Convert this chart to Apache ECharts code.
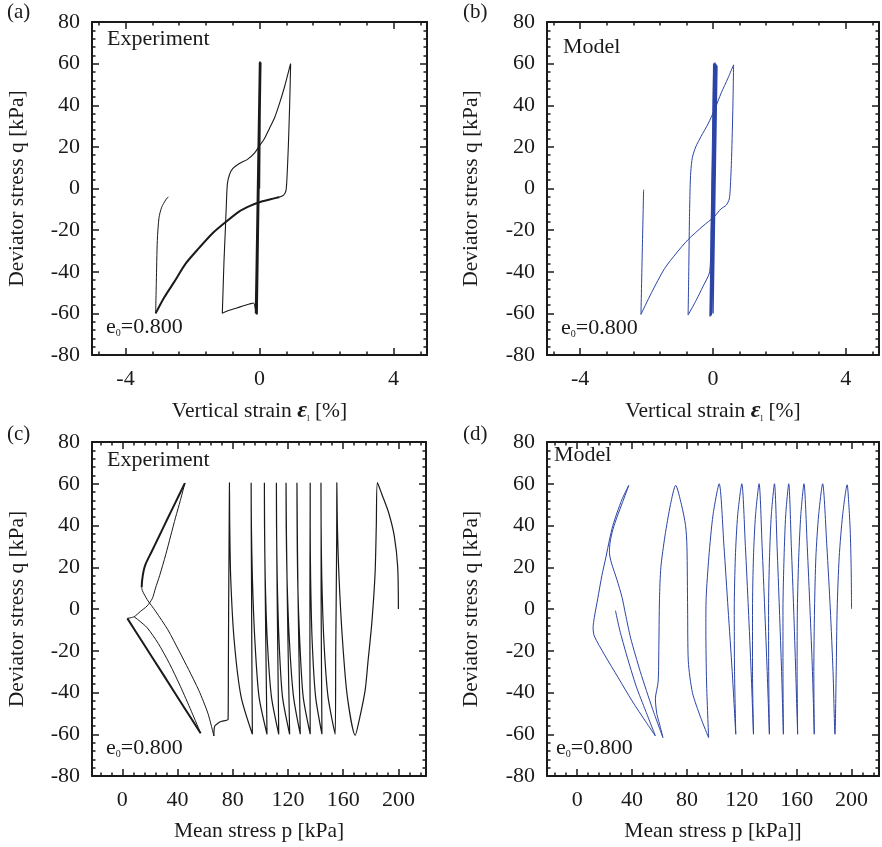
<!DOCTYPE html>
<html><head><meta charset="utf-8">
<script src="https://cdn.jsdelivr.net/npm/echarts@6/dist/echarts.min.js"></script>
<style>html,body{margin:0;padding:0;background:#fff}#c{width:882px;height:847px}</style>
</head><body><div id="c"></div>
<script>
// ---------- tick values ----------
const yTicks = [-80,-60,-40,-20,0,20,40,60,80];
const strainLabels = [-4,0,4];
const strainMinor = [-4.8,-3.2,-2.4,-1.6,-0.8,0.8,1.6,2.4,3.2,4.8];
const pLabels = [0,40,80,120,160,200];
const pMinor = [-16,-8,8,16,24,32,48,56,64,72,88,96,104,112,128,136,144,152,168,176,184,192,208,216];

// ---------- (a) experiment: strain [%], q [kPa] ----------
const aBundle = [[0,0],[0.03,60],[-0.08,-60],[0.02,61],[-0.1,-60],[0.04,60.5],[-0.07,-60.5],[0.01,60],[-0.11,-60],[0.02,61],[-0.09,-60.5],[0.0,60.5],[-0.12,-60],[0.03,60],[-0.1,-60],[0.01,61],[-0.12,-58]];
const aLoop = [[-0.12,-58],[-0.18,-55],[-0.3,-55.5],[-0.5,-56.5],[-0.7,-57.5],[-0.9,-58.5],[-1.05,-59.5],[-1.11,-60],[-1.09,-50],[-1.06,-35],[-1.02,-20],[-0.99,-8],[-0.96,2],[-0.9,6.5],[-0.8,9.5],[-0.6,12],[-0.36,14],[-0.15,17],[0.0,20.5],[0.15,24],[0.3,29],[0.45,34],[0.6,41],[0.75,49],[0.92,59.5],[0.93,60],[0.9,40],[0.86,20],[0.82,5],[0.79,-1],[0.72,-3.2],[0.6,-4.1]];
const aSoft = [[0.6,-4.1],[0.3,-5.3],[0.0,-6.6],[-0.3,-8.5],[-0.6,-11],[-1.0,-16],[-1.4,-21.5],[-1.8,-28.5],[-2.2,-36],[-2.55,-45],[-2.85,-52.5],[-3.1,-60]];
const aEnd = [[-3.1,-60],[-3.08,-45],[-3.05,-25],[-3.0,-14],[-2.92,-9],[-2.8,-5.5],[-2.72,-4]];

// ---------- (b) model: strain [%], q [kPa] ----------
const bBundle = [[0,0],[0.12,59],[0.0,-60],[0.08,60],[-0.06,-61],[0.06,60.5],[-0.08,-61],[0.04,60],[-0.09,-61.5],[0.1,59.5],[-0.05,-61],[0.02,60]];
const bLoop = [[0.02,60],[-0.02,20],[-0.06,-20],[-0.1,-40],[-0.3,-47],[-0.5,-53.5],[-0.75,-60.8],[-0.73,-40],[-0.71,-15],[-0.69,0],[-0.67,8],[-0.62,15],[-0.52,20],[-0.36,25],[-0.15,31],[0.05,38],[0.25,46],[0.45,53],[0.62,59.4],[0.6,40],[0.56,15],[0.52,0],[0.49,-5],[0.4,-8],[0.24,-9.8],[0.04,-13.5],[-0.3,-18],[-0.76,-24.7],[-1.1,-31],[-1.46,-38.5],[-1.85,-50],[-2.17,-60.5],[-2.13,-30],[-2.09,-0.6]];

// ---------- (c) experiment: p [kPa], q [kPa] ----------
const cCycles = [[200,0],[199.5,20],[197,35],[193,46],[188,55],[184.8,60.5],
  [184,40],[183.1,17],[180.7,-7],[178,-25],[175.9,-39],[172,-52],[168.7,-60.5],
  [163,-42],[159.5,-15],[157,15],[155.8,40],[155.4,60.5],[155.3,35],[155,10],[154.6,-20],[154.2,-60],
  [149,-42],[146,-15],[144.5,15],[144,40],[143.9,60.5],[144,35],[144,10],[144.2,-20],[144.6,-60],
  [140,-42],[137.5,-15],[136.4,15],[136.1,40],[136.1,60.5],[136,35],[135.9,10],[135.9,-20],[136.1,-60],
  [131,-42],[128.5,-15],[127,15],[126.6,40],[126.5,60.5],[126.8,35],[127.2,10],[127.9,-20],[128.9,-60],
  [124,-42],[121,-15],[119.3,15],[118.7,40],[118.6,60.5],[118.9,35],[119.4,10],[120.1,-20],[121.2,-60],
  [116,-42],[113.5,-15],[112.2,15],[111.7,40],[111.6,60.5],[111.8,35],[112.1,10],[112.6,-20],[113.3,-60],
  [108,-42],[105,-15],[103.5,15],[103,40],[102.9,60.5],[103.1,35],[103.5,10],[104,-20],[104.8,-60],
  [99,-42],[96,-15],[94.2,15],[93.5,40],[93.3,60.5],[93.4,35],[93.6,10],[93.8,-20],[94.2,-60],
  [86,-42],[81,-15],[78.5,15],[77.8,40],[77.6,60.5],[77.3,30],[77,0],[76.8,-30],[76.6,-52.8],[72,-53.8],[69.9,-54.4],[67,-56],[66.3,-60.8]];
const cRise = [[66.3,-60.8],[62,-50],[55.4,-39],[48,-29],[41,-20],[33,-10],[24,-1],[18,4.5],[14.5,8.8],[14,10.4]];
const cUp = [[14,10.4],[14.3,13.6],[15.3,18],[16.9,21.6],[21,27.2],[26,34],[31,40.9],[36,47.7],[41,54.5],[45.3,60.3]];
const cDown = [[45.3,60.3],[42,52],[38.6,44],[35,35],[31.4,26],[27,16],[24,10],[21.7,5],[18,1.5],[13,-1.2],[8.5,-3.7],[3.6,-4.5]];
const cSoft = [[3.6,-4.5],[15,-16.3],[30,-31.8],[45,-47.4],[56.7,-59.5]];
const cEnd = [[56.7,-59.5],[50,-49],[42,-37],[34,-26],[26,-16.5],[18,-9],[12,-5.5],[8.5,-3.7]];

// ---------- (d) model: p [kPa], q [kPa] ----------
const dCycles = [[200,0],[199.7,20],[199,38],[198,50],[196.8,59.5],
  [193.5,45],[191,25],[189.5,0],[188.8,-30],[187.9,-60],
  [186.5,-30],[184.5,0],[182,30],[178.9,60],
  [176,45],[174,25],[173,0],[172.5,-30],[172.8,-60],
  [171.5,-30],[169.7,0],[167.7,30],[165.3,60],
  [163,45],[161.5,25],[160.5,0],[160.3,-30],[160.7,-60],
  [159.3,-30],[157.8,0],[156.1,30],[154.2,60],
  [152,45],[150.8,25],[150,0],[150,-30],[150.3,-60],
  [149,-30],[147.4,0],[145.7,30],[143.8,60],
  [141.5,45],[140.2,25],[139.5,0],[139.6,-30],[140.1,-60],
  [138.5,-30],[136.7,0],[134.8,30],[132.6,60],
  [130,45],[128.5,25],[127.8,0],[127.8,-30],[128.5,-60],
  [126.8,-30],[124.8,0],[122.6,30],[120,60],
  [117,45],[115.3,25],[114.5,0],[114.7,-30],[115.6,-60],
  [113,-30],[110,0],[107,30],[103.5,60],
  [99,45],[96,25],[94,5],[93.8,-10],[94.3,-35],[95.8,-61.6],
  [90,-52],[84,-40],[81,-25],[80.5,0],[80,30],[79,40],[76,50],[71.8,59.2],
  [68,50],[64,35],[61,20],[60,5],[59.5,-20],[59,-35],[57,-43],[58,-50],[60,-55],[62.5,-61.6]];
const dRise = [[62.5,-61.6],[55,-48],[46,-30],[39,-14],[35.2,-2.4],[32.7,5.6],[29,14],[25,22],[23.5,27],[24,32],[26,38],[29,44],[33,51],[37.6,59.2]];
const dFall = [[37.6,59.2],[33,53],[29,46],[26,40],[23.5,33],[21,25],[18,16],[15,5],[12.5,-4],[11.6,-9],[12.5,-13],[20,-22],[30,-33],[40,-44],[50,-54],[57,-60.8]];
const dEnd = [[57,-60.8],[50,-49],[43,-37],[36,-22],[31,-10],[27.9,-0.8]];

// ---------- layout ----------
const FONT = 'Liberation Serif';
const INK = '#1a1a1a';
const BLUE = '#2b44a6';
const grids = [
  {left:92, top:22, width:335, height:333},
  {left:547, top:22, width:332, height:333},
  {left:92, top:442, width:334, height:334},
  {left:547, top:442, width:332, height:334}
];
const xNames = ['Vertical strain {e|ε}{s|l} [%]','Vertical strain {e|ε}{s|l} [%]','Mean stress p [kPa]','Mean stress p [kPa]]'];
const xRanges = [[-5,5],[-5,5],[-22,220],[-22,220]];
const xLabs = [strainLabels,strainLabels,pLabels,pLabels];
const xMins = [strainMinor,strainMinor,pMinor,pMinor];

const xAxis = [], yAxis = [];
const axLine = {show:true, onZero:false, lineStyle:{color:INK, width:2}};
grids.forEach((g,k)=>{
  const [mn,mx] = xRanges[k];
  xAxis.push({type:'value', gridIndex:k, min:mn, max:mx, position:'bottom',
    axisLine:axLine,
    axisTick:{show:true, inside:true, length:7, customValues:xLabs[k], lineStyle:{color:INK,width:1.5}},
    axisLabel:{show:true, customValues:xLabs[k], margin:13, fontFamily:FONT, fontSize:22, color:INK},
    splitLine:{show:false},
    name:xNames[k], nameLocation:'middle', nameGap:44,
    nameTextStyle:{fontFamily:FONT, fontSize:21.5, color:INK,
      rich:{e:{fontFamily:FONT,fontSize:24,fontStyle:'italic',fontWeight:'bold',color:INK}, s:{fontFamily:FONT,fontSize:9,color:INK,verticalAlign:'bottom',padding:[8,0,0,0]}}}
  });
  xAxis.push({type:'value', gridIndex:k, min:mn, max:mx, position:'bottom',
    axisLine:{show:false, onZero:false},
    axisTick:{show:true, inside:true, length:3.5, customValues:xMins[k], lineStyle:{color:INK,width:1.5}},
    axisLabel:{show:false}, splitLine:{show:false}});
  xAxis.push({type:'value', gridIndex:k, min:mn, max:mx, position:'top',
    axisLine:axLine,
    axisTick:{show:true, inside:true, length:7, customValues:xLabs[k], lineStyle:{color:INK,width:1.5}},
    axisLabel:{show:false}, splitLine:{show:false}});
  xAxis.push({type:'value', gridIndex:k, min:mn, max:mx, position:'top',
    axisLine:{show:false, onZero:false},
    axisTick:{show:true, inside:true, length:3.5, customValues:xMins[k], lineStyle:{color:INK,width:1.5}},
    axisLabel:{show:false}, splitLine:{show:false}});
  yAxis.push({type:'value', gridIndex:k, min:-80, max:80, interval:20, position:'left',
    axisLine:axLine,
    axisTick:{show:true, inside:true, length:7, lineStyle:{color:INK,width:1.5}},
    minorTick:{show:true, splitNumber:5, length:3.5, lineStyle:{color:INK,width:1.5}},
    axisLabel:{show:true, margin:12, fontFamily:FONT, fontSize:22, color:INK},
    splitLine:{show:false}, minorSplitLine:{show:false},
    name:'Deviator stress q [kPa]', nameLocation:'middle', nameGap:k%2?65:64,
    nameTextStyle:{fontFamily:FONT, fontSize:21.5, color:INK}
  });
  yAxis.push({type:'value', gridIndex:k, min:-80, max:80, interval:20, position:'right',
    axisLine:axLine,
    axisTick:{show:true, inside:true, length:7, lineStyle:{color:INK,width:1.5}},
    minorTick:{show:true, splitNumber:5, length:3.5, lineStyle:{color:INK,width:1.5}},
    axisLabel:{show:false}, splitLine:{show:false}, minorSplitLine:{show:false}});
});

function line(k, data, color, width){
  return {type:'line', xAxisIndex:k*4, yAxisIndex:k*2, data:data, showSymbol:false,
    symbol:'none', smooth:0.25, silent:true, animation:false, clip:true,
    lineStyle:{color:color, width:width}};
}
const series = [
  line(0,aBundle,INK,1.4), line(0,aLoop,INK,1.1), line(0,aSoft,INK,2), line(0,aEnd,INK,1),
  line(1,bBundle,BLUE,1.4), line(1,bLoop,BLUE,1),
  line(2,cCycles,INK,1.2), line(2,cRise,INK,1), line(2,cUp,INK,2), line(2,cDown,INK,1), line(2,cSoft,INK,2), line(2,cEnd,INK,1),
  line(3,dCycles,BLUE,1), line(3,dRise,BLUE,1), line(3,dFall,BLUE,1), line(3,dEnd,BLUE,1)
];

function txt(x,y,s,size){ return {type:'text', left:x, top:y, style:{text:s, fontFamily:FONT, fontSize:size||21, fill:INK}}; }
function e0(x,y){ return {type:'text', left:x, top:y, style:{text:'{a|e}{b|0}{a|=0.800}', fontFamily:FONT, fill:INK,
  rich:{a:{fontFamily:FONT,fontSize:22,fill:INK}, b:{fontFamily:FONT,fontSize:10,fill:INK,verticalAlign:'bottom',padding:[6,0,0,0]}}}}; }
const graphic = [
  txt(7,2,'(a)'), txt(463,2,'(b)'), txt(7,424,'(c)'), txt(463,424,'(d)'),
  txt(107,28,'Experiment',22), txt(563,36,'Model',22), txt(107,449,'Experiment',22), txt(554,444,'Model',22),
  e0(106,316), e0(561,317), e0(106,737), e0(556,737)
];

const chart = echarts.init(document.getElementById('c'), null, {renderer:'canvas'});
chart.setOption({animation:false, backgroundColor:'#fff', grid:grids, xAxis:xAxis, yAxis:yAxis, series:series, graphic:graphic});
</script></body></html>
